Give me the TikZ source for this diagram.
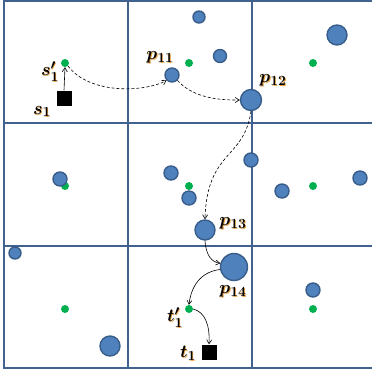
\RequirePackage{fix-cm}
\documentclass[tikz,border=0pt]{standalone}
\usetikzlibrary{arrows.meta}
\usepackage{amsmath,amsbsy}
\DeclareMathSizes{18}{18}{14}{11}
\definecolor{gridblue}{HTML}{41628F}
\definecolor{ballfill}{HTML}{4F81BD}
\definecolor{balledge}{HTML}{385D8A}
\definecolor{dotgreen}{HTML}{00B050}
\definecolor{glow}{HTML}{E8A040}
\newcommand{\glowlabel}[1]{%
  \makebox[0pt][l]{\raisebox{-0.8pt}{\kern0.9pt\textcolor{glow}{$\boldsymbol{#1}$}}}%
  $\boldsymbol{#1}$}
\begin{document}
\begin{tikzpicture}[x=1pt,y=-1pt,
  gridline/.style={draw=gridblue,line width=2.8pt},
  ball/.style={circle,fill=ballfill,draw=balledge,line width=1.4pt,inner sep=0pt,minimum size=#1},
  dot/.style={circle,fill=dotgreen,inner sep=0pt,minimum size=8pt},
  goal/.style={rectangle,fill=black,inner sep=0pt,minimum size=15pt},
  lbl/.style={inner sep=0pt,font=\fontsize{18}{20}\selectfont},
  hop/.style={-{Straight Barb[length=4pt,width=5pt]},line width=0.6pt},
  dhop/.style={hop,dashed,dash pattern=on 3pt off 2pt}]
\useasboundingbox (0,0) rectangle (372,370);
% grid
\foreach \x in {4,128,252} \draw[gridline] (\x,1) -- (\x,368);
\foreach \y in {1,123,246,368} \draw[gridline] (2.6,\y) -- (373,\y);
% cell centres
\node[dot] (c11) at (65,63) {};
\node[dot] (c12) at (189,63) {};
\node[dot] (c13) at (313,63) {};
\node[dot] (c21) at (65,186) {};
\node[dot] (c22) at (189,186) {};
\node[dot] (c23) at (313,186) {};
\node[dot] (c31) at (65,309) {};
\node[dot] (c32) at (189,309) {};
\node[dot] (c33) at (313,309) {};
% obstacles
\node[ball=12pt] (b1) at (199,17) {};
\node[ball=20pt] (b2) at (337,35) {};
\node[ball=13pt] (b3) at (220,56) {};
\node[ball=14pt] (p11) at (172,75) {};
\node[ball=21pt] (p12) at (251,100) {};
\node[ball=14pt] (b4) at (60,179) {};
\node[ball=14pt] (b5) at (171,173) {};
\node[ball=14pt] (b6) at (251,160) {};
\node[ball=14pt] (b7) at (189,198) {};
\node[ball=14pt] (b8) at (282,191) {};
\node[ball=14pt] (b9) at (360,178) {};
\node[ball=20pt] (p13) at (205,230) {};
\node[ball=27pt] (p14) at (234,267) {};
\node[ball=12pt] (b10) at (15,253) {};
\node[ball=14pt] (b11) at (313,290) {};
\node[ball=20pt] (b12) at (110,346) {};
% start and target
\node[goal] (s1) at (64,98) {};
\node[goal] (t1) at (209,352) {};
% labels
\node[lbl] at (50,72) {\glowlabel{s'_1}};
\node[lbl] at (42,112) {\glowlabel{s_1}};
\node[lbl] at (160,58) {\glowlabel{p_{11}}};
\node[lbl] at (273,81) {\glowlabel{p_{12}}};
\node[lbl] at (233,224) {\glowlabel{p_{13}}};
\node[lbl] at (233,292) {\glowlabel{p_{14}}};
\node[lbl] at (175,318) {\glowlabel{t'_1}};
\node[lbl] at (188,354) {\glowlabel{t_1}};
% route
\draw[hop] (s1.north) -- (c11.south);
\draw[dhop] (c11.south east) .. controls (90,95) and (145,92) .. (p11.south west);
\draw[dhop] (p11.south east) .. controls (195,100) and (225,100) .. (p12.west);
\draw[dhop] (p12.south) .. controls (244,160) and (207,150) .. (p13.north);
\draw[hop] (p13.south) .. controls (206,256) and (212,262) .. (p14.165);
\draw[hop] (p14.190) .. controls (200,272) and (191,287) .. (c32.north);
\draw[hop] (c32.east) .. controls (205,312) and (210,325) .. (t1.north);
\end{tikzpicture}
\end{document}
